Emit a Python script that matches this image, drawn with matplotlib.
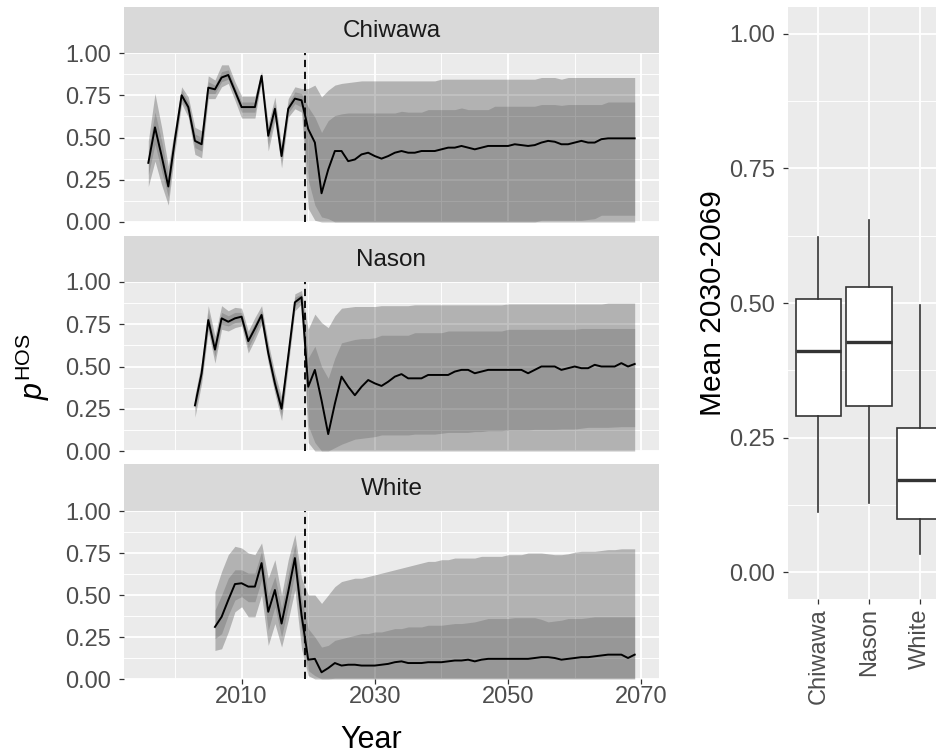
import numpy as np
import matplotlib
matplotlib.use("Agg")
import matplotlib.pyplot as plt

plt.rcParams['font.family'] = ['Liberation Sans', 'DejaVu Sans']
plt.rcParams['mathtext.fontset'] = 'custom'
plt.rcParams['mathtext.rm'] = 'Liberation Sans'
plt.rcParams['mathtext.it'] = 'Liberation Sans:italic'

# ---------------- data ----------------
sites = ["Chiwawa", "Nason", "White"]
first_year = {"Chiwawa": 1996, "Nason": 2003, "White": 2006}
last_year = 2069
split_year = 2019.5

chiwawa_med = [0.35, 0.56, 0.39, 0.21, 0.49, 0.75, 0.68, 0.48, 0.46, 0.795,
               0.785, 0.855, 0.87, 0.775, 0.68, 0.68, 0.68, 0.865, 0.51, 0.67,
               0.39, 0.67, 0.73, 0.72, 0.55, 0.47, 0.17, 0.31, 0.42, 0.42,
               0.36, 0.37, 0.40, 0.41, 0.39, 0.375, 0.39, 0.41, 0.42, 0.41,
               0.41, 0.42, 0.42, 0.42, 0.43, 0.44, 0.44, 0.45, 0.44, 0.43,
               0.44, 0.45, 0.45, 0.45, 0.45, 0.46, 0.455, 0.45, 0.455, 0.47,
               0.48, 0.475, 0.46, 0.46, 0.47, 0.48, 0.47, 0.47, 0.49, 0.495,
               0.495, 0.495, 0.495, 0.495]
chiwawa_lo95 = [0.21, 0.36, 0.22, 0.10, 0.42, 0.70, 0.62, 0.40, 0.38, 0.73,
                0.73, 0.80, 0.82, 0.72, 0.615, 0.615, 0.615, 0.84, 0.42, 0.60,
                0.32, 0.62, 0.67, 0.65, 0.08, 0.01, 0, 0, 0, 0] + [0.0] * 44
chiwawa_lo50 = [0.28, 0.46, 0.30, 0.15, 0.46, 0.72, 0.65, 0.44, 0.42, 0.76,
                0.76, 0.83, 0.845, 0.75, 0.65, 0.65, 0.65, 0.85, 0.46, 0.64,
                0.36, 0.645, 0.70, 0.68, 0.25, 0.10, 0.03, 0.02, 0, 0,
                0, 0, 0, 0, 0, 0, 0, 0, 0, 0,
                0, 0, 0, 0, 0, 0, 0, 0, 0, 0,
                0, 0, 0, 0, 0, 0, 0, 0, 0, 0.01,
                0.01, 0.01, 0.01, 0.01, 0.01, 0.01, 0.015, 0.02, 0.04, 0.04,
                0.04, 0.04, 0.04, 0.04]
chiwawa_hi50 = [0.42, 0.65, 0.48, 0.27, 0.53, 0.78, 0.71, 0.52, 0.50, 0.83,
                0.81, 0.89, 0.90, 0.80, 0.71, 0.71, 0.71, 0.88, 0.54, 0.70,
                0.42, 0.70, 0.77, 0.76, 0.68, 0.62, 0.53, 0.60, 0.63, 0.64,
                0.645, 0.645, 0.645, 0.645, 0.645, 0.645, 0.645, 0.645, 0.655, 0.65,
                0.65, 0.65, 0.665, 0.665, 0.665, 0.665, 0.665, 0.675, 0.665, 0.665,
                0.665, 0.665, 0.685, 0.685, 0.685, 0.685, 0.685, 0.685, 0.685, 0.695,
                0.695, 0.695, 0.69, 0.695, 0.695, 0.695, 0.695, 0.695, 0.695, 0.71,
                0.71, 0.71, 0.71, 0.71]
chiwawa_hi95 = [0.48, 0.76, 0.56, 0.33, 0.56, 0.80, 0.74, 0.56, 0.54, 0.865,
                0.84, 0.93, 0.93, 0.83, 0.745, 0.745, 0.745, 0.89, 0.58, 0.74,
                0.45, 0.73, 0.80, 0.79, 0.79, 0.81, 0.74, 0.78, 0.81, 0.82,
                0.825, 0.83, 0.835, 0.835, 0.835, 0.835, 0.835, 0.835, 0.835, 0.835,
                0.835, 0.835, 0.835, 0.835, 0.845, 0.845, 0.845, 0.845, 0.845, 0.845,
                0.845, 0.845, 0.845, 0.845, 0.845, 0.845, 0.845, 0.845, 0.845, 0.855,
                0.855, 0.855, 0.845, 0.855, 0.855, 0.855, 0.855, 0.855, 0.855, 0.855,
                0.855, 0.855, 0.855, 0.855]

nason_med = [0.27, 0.46, 0.775, 0.60, 0.785, 0.765, 0.785, 0.795, 0.65, 0.725,
             0.805, 0.58, 0.40, 0.25, 0.56, 0.88, 0.91, 0.38, 0.48, 0.30,
             0.10, 0.28, 0.44, 0.38, 0.33, 0.38, 0.42, 0.40, 0.385, 0.41,
             0.44, 0.455, 0.43, 0.43, 0.43, 0.45, 0.45, 0.45, 0.45, 0.47,
             0.48, 0.48, 0.46, 0.47, 0.48, 0.48, 0.48, 0.48, 0.48, 0.48,
             0.46, 0.48, 0.50, 0.50, 0.50, 0.48, 0.49, 0.50, 0.49, 0.49,
             0.51, 0.50, 0.50, 0.50, 0.52, 0.50, 0.515]
nason_lo95 = [0.20, 0.40, 0.71, 0.52, 0.72, 0.71, 0.73, 0.74, 0.58, 0.66,
              0.75, 0.52, 0.34, 0.18, 0.50, 0.83, 0.87, 0.05, 0, 0] + [0.0] * 47
nason_lo50 = [0.24, 0.43, 0.74, 0.56, 0.75, 0.74, 0.76, 0.765, 0.61, 0.69,
              0.78, 0.55, 0.37, 0.21, 0.53, 0.86, 0.89, 0.15, 0.05, 0.0,
              0.0, 0.02, 0.04, 0.055, 0.07, 0.075, 0.08, 0.085, 0.095, 0.095,
              0.095, 0.095, 0.095, 0.10, 0.10, 0.10, 0.10, 0.105, 0.11, 0.11,
              0.11, 0.11, 0.115, 0.115, 0.12, 0.12, 0.12, 0.125, 0.125, 0.125,
              0.125, 0.128, 0.128, 0.128, 0.128, 0.13, 0.13, 0.13, 0.135, 0.14,
              0.14, 0.14, 0.14, 0.142, 0.144, 0.144, 0.144]
nason_hi50 = [0.30, 0.50, 0.82, 0.64, 0.82, 0.80, 0.82, 0.82, 0.68, 0.76,
              0.83, 0.61, 0.43, 0.29, 0.59, 0.91, 0.93, 0.55, 0.62, 0.50,
              0.43, 0.55, 0.64, 0.65, 0.66, 0.665, 0.665, 0.67, 0.685, 0.685,
              0.685, 0.685, 0.685, 0.70, 0.70, 0.70, 0.70, 0.70, 0.71, 0.71,
              0.71, 0.71, 0.71, 0.71, 0.71, 0.71, 0.71, 0.72, 0.72, 0.72,
              0.72, 0.72, 0.72, 0.72, 0.72, 0.72, 0.72, 0.72, 0.725, 0.725,
              0.725, 0.725, 0.725, 0.725, 0.725, 0.725, 0.725]
nason_hi95 = [0.33, 0.53, 0.86, 0.68, 0.86, 0.83, 0.85, 0.845, 0.71, 0.79,
              0.86, 0.64, 0.46, 0.32, 0.62, 0.93, 0.95, 0.72, 0.81, 0.76,
              0.73, 0.80, 0.845, 0.85, 0.855, 0.855, 0.855, 0.855, 0.86, 0.86,
              0.86, 0.86, 0.86, 0.865, 0.865, 0.865, 0.865, 0.865, 0.865, 0.865,
              0.865, 0.865, 0.865, 0.865, 0.865, 0.865, 0.865, 0.87, 0.87, 0.87,
              0.87, 0.87, 0.87, 0.87, 0.87, 0.87, 0.87, 0.87, 0.87, 0.87,
              0.87, 0.87, 0.875, 0.875, 0.875, 0.875, 0.875]

white_med = [0.31, 0.37, 0.47, 0.565, 0.57, 0.55, 0.55, 0.69, 0.40, 0.53,
             0.33, 0.52, 0.72, 0.38, 0.115, 0.12, 0.04, 0.065, 0.095, 0.08,
             0.085, 0.085, 0.08, 0.08, 0.08, 0.085, 0.09, 0.10, 0.105, 0.095,
             0.095, 0.095, 0.10, 0.10, 0.10, 0.105, 0.11, 0.11, 0.115, 0.105,
             0.115, 0.12, 0.12, 0.12, 0.12, 0.12, 0.12, 0.12, 0.125, 0.13,
             0.13, 0.125, 0.115, 0.12, 0.125, 0.13, 0.13, 0.135, 0.14, 0.145,
             0.145, 0.145, 0.125, 0.145]
white_lo95 = [0.17, 0.18, 0.28, 0.40, 0.43, 0.37, 0.37, 0.50, 0.20, 0.33,
              0.19, 0.35, 0.53, 0.18, 0.02, 0, 0, 0, 0, 0] + [0.0] * 44
white_lo50 = [0.24, 0.27, 0.38, 0.47, 0.49, 0.46, 0.46, 0.59, 0.29, 0.43,
              0.25, 0.43, 0.63, 0.27, 0.05, 0.02, 0, 0, 0.005, 0.005] + [0.005] * 44
white_hi50 = [0.41, 0.50, 0.60, 0.65, 0.65, 0.63, 0.63, 0.76, 0.50, 0.61,
              0.42, 0.62, 0.80, 0.48, 0.30, 0.25, 0.19, 0.20, 0.23, 0.24,
              0.25, 0.26, 0.27, 0.27, 0.28, 0.28, 0.29, 0.30, 0.30, 0.31,
              0.31, 0.31, 0.32, 0.32, 0.32, 0.325, 0.33, 0.33, 0.335, 0.34,
              0.35, 0.36, 0.36, 0.36, 0.36, 0.365, 0.365, 0.365, 0.365, 0.355,
              0.34, 0.345, 0.35, 0.36, 0.36, 0.36, 0.365, 0.37, 0.37, 0.37,
              0.37, 0.37, 0.37, 0.37]
white_hi95 = [0.52, 0.64, 0.74, 0.79, 0.78, 0.75, 0.74, 0.81, 0.60, 0.71,
              0.50, 0.71, 0.86, 0.60, 0.50, 0.50, 0.45, 0.50, 0.55, 0.58,
              0.59, 0.60, 0.60, 0.61, 0.62, 0.63, 0.64, 0.65, 0.66, 0.67,
              0.68, 0.69, 0.70, 0.70, 0.71, 0.71, 0.72, 0.72, 0.72, 0.72,
              0.73, 0.73, 0.73, 0.73, 0.74, 0.74, 0.74, 0.75, 0.75, 0.75,
              0.745, 0.74, 0.74, 0.745, 0.755, 0.76, 0.76, 0.76, 0.765, 0.77,
              0.77, 0.775, 0.775, 0.775]

series = {
    "Chiwawa": (chiwawa_med, chiwawa_lo95, chiwawa_lo50, chiwawa_hi50, chiwawa_hi95),
    "Nason": (nason_med, nason_lo95, nason_lo50, nason_hi50, nason_hi95),
    "White": (white_med, white_lo95, white_lo50, white_hi50, white_hi95),
}

# five-number summaries of the 2030-2069 mean
box_whislo = [0.112, 0.128, 0.033]
box_q1 = [0.290, 0.308, 0.098]
box_med = [0.411, 0.427, 0.171]
box_q3 = [0.508, 0.530, 0.267]
box_whishi = [0.622, 0.655, 0.497]

# ---------------- style ----------------
PANEL_BG = "#EBEBEB"
STRIP_BG = "#D9D9D9"
TICK_COL = "#4D4D4D"
TICK_LINE = "#333333"
TICK_SIZE = 17
STRIP_SIZE = 17.5
TITLE_SIZE = 22

W, H = 937, 754
fig = plt.figure(figsize=(W / 100, H / 100), dpi=100)


def px_axes(x0, y0, x1, y1):
    return fig.add_axes([x0 / W, 1 - y1 / H, (x1 - x0) / W, (y1 - y0) / H])


def style_panel(ax):
    ax.set_facecolor(PANEL_BG)
    for s in ax.spines.values():
        s.set_visible(False)
    ax.set_axisbelow(True)
    ax.grid(which="major", color="white", lw=1.3)
    ax.grid(which="minor", color="white", lw=0.65)
    ax.tick_params(which="major", length=3.5, width=0.9, color=TICK_LINE,
                   labelsize=TICK_SIZE, labelcolor=TICK_COL, pad=5)
    ax.tick_params(which="minor", length=0)


# ---------------- left: facets ----------------
LX0, LX1 = 124, 659
facet_rows = [(7, 53, 222), (236, 282, 451), (464, 511, 679)]

for i, (site, (s_top, p_top, p_bot)) in enumerate(zip(sites, facet_rows)):
    strip = px_axes(LX0, s_top, LX1, p_top)
    strip.set_facecolor(STRIP_BG)
    strip.set_xticks([])
    strip.set_yticks([])
    for s in strip.spines.values():
        s.set_visible(False)
    strip.text(0.5, 0.47, site, ha="center", va="center",
               fontsize=STRIP_SIZE, color="#1A1A1A", transform=strip.transAxes)

    ax = px_axes(LX0, p_top, LX1, p_bot)
    style_panel(ax)
    med, lo95, lo50, hi50, hi95 = series[site]
    years = np.arange(first_year[site], last_year + 1)
    ax.fill_between(years, lo95, hi95, color="black", alpha=0.24, lw=0)
    ax.fill_between(years, lo50, hi50, color="black", alpha=0.15, lw=0)
    ax.plot(years, med, color="black", lw=1.4)
    ax.axvline(split_year, color="black", lw=1.3, linestyle=(0, (4, 2.6)))

    ax.set_xlim(1992.35, 2072.65)
    ax.set_ylim(0, 1)
    ax.set_xticks([2010, 2030, 2050, 2070])
    ax.set_xticks([2000, 2020, 2040, 2060], minor=True)
    ax.set_yticks([0, 0.25, 0.5, 0.75, 1.0])
    ax.set_yticks([0.125, 0.375, 0.625, 0.875], minor=True)
    ax.set_yticklabels(["0.00", "0.25", "0.50", "0.75", "1.00"])
    if i < 2:
        ax.tick_params(axis="x", which="major", length=0, labelbottom=False)
    else:
        ax.set_xticklabels(["2010", "2030", "2050", "2070"])
        ax.tick_params(axis="x", pad=1.5)
    ax.tick_params(axis="y", pad=6)

fig.text(33 / W, 1 - 367 / H, r"$\mathit{p}^{\mathrm{HOS}}$", rotation=90,
         ha="center", va="center", fontsize=TITLE_SIZE, color="black")
fig.text(371 / W, 1 - 740 / H, "Year", ha="center", va="center",
         fontsize=TITLE_SIZE, color="black")

# ---------------- right: boxplot ----------------
bx = px_axes(788, 7, 950, 599)
style_panel(bx)
stats = []
for k, site in enumerate(sites):
    stats.append(dict(label=site, whislo=box_whislo[k], q1=box_q1[k],
                      med=box_med[k], q3=box_q3[k], whishi=box_whishi[k]))
bx.bxp(stats, positions=[1, 2, 3], widths=0.9, showfliers=False,
       showcaps=False, patch_artist=True,
       boxprops=dict(facecolor="white", edgecolor=TICK_LINE, lw=1.2),
       medianprops=dict(color=TICK_LINE, lw=2.4, solid_capstyle="butt"),
       whiskerprops=dict(color=TICK_LINE, lw=1.2))
bx.set_xlim(0.4, 3.6)
bx.set_ylim(-0.05, 1.05)
bx.set_xticks([1, 2, 3])
bx.set_xticklabels(sites, rotation=90, va="top", ha="center")
bx.set_yticks([0, 0.25, 0.5, 0.75, 1.0])
bx.set_yticks([0.125, 0.375, 0.625, 0.875], minor=True)
bx.set_yticklabels(["0.00", "0.25", "0.50", "0.75", "1.00"])
bx.tick_params(axis="y", pad=6)
bx.tick_params(axis="x", pad=3)
bx.grid(which="minor", axis="x", visible=False)
fig.text(713 / W, 1 - 303 / H, "Mean 2030-2069", rotation=90,
         ha="center", va="center", fontsize=TITLE_SIZE - 0.5, color="black")

fig.savefig("out.png", dpi=100)
